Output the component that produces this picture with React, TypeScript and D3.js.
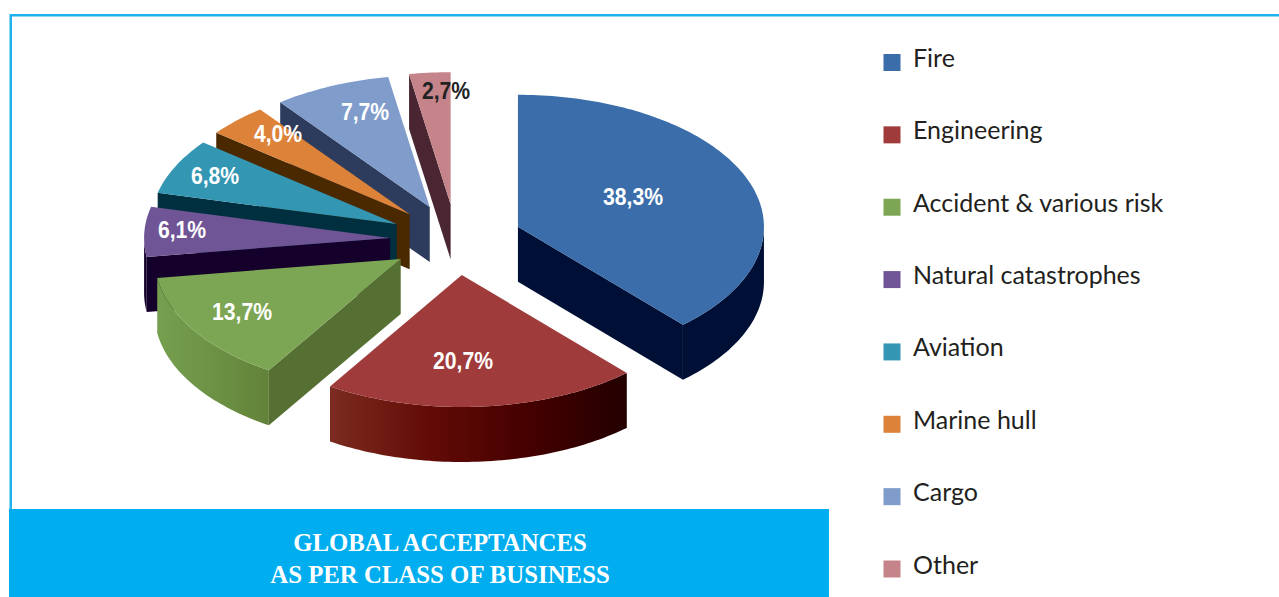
import React from "react";
import * as d3 from "d3";

const categories = ["Fire", "Engineering", "Accident & various risk", "Natural catastrophes", "Aviation", "Marine hull", "Cargo", "Other"];
const shares = [38.3, 20.7, 13.7, 6.1, 6.8, 4.0, 7.7, 2.7];
const shareLabels = ["38,3%", "20,7%", "13,7%", "6,1%", "6,8%", "4,0%", "7,7%", "2,7%"];
const titleLines = ["GLOBAL ACCEPTANCES", "AS PER CLASS OF BUSINESS"];

const topColors = ["#3a6daa", "#9f3b3b", "#7da654", "#6f5496", "#3396b3", "#dc8339", "#7f9ccb", "#c5848a"];
const edgeColors = ["#000f35", "#2a0000", "#566f32", "#14002a", "#00303f", "#4a2800", "#2d3b5c", "#4a2632"];
const wallStops = [
  ["#000f35", "#000f35"],
  ["#7c2c20", "#620b06", "#450000", "#240000"],
  ["#779f50", "#6c9245", "#628239"],
  ["#14002a", "#14002a"],
  ["#00303f", "#00303f"],
  ["#4a2800", "#4a2800"],
  ["#2d3b5c", "#2d3b5c"],
  ["#4a2632", "#4a2632"],
];
const labelAnchors = [[633, 197], [463, 361], [242, 312], [182, 230], [215, 176], [278, 134], [365, 112], [446, 91]];
const labelColors = ["#fff", "#fff", "#fff", "#fff", "#fff", "#fff", "#fff", "#222"];

const W = 1279, H = 597;
const cx = 456.2, cy = 239.6, rx = 246, ry = 132, depth = 55, explode = 0.269;

const arcs = d3.pie<number>().sort(null).value((d) => d)(shares);
const line = d3.line<[number, number]>();
const legendY = d3.scalePoint<string>().domain(categories).range([58.5, 565]);

function samples(a0: number, a1: number) {
  const n = Math.max(2, Math.ceil((a1 - a0) / 0.02));
  return d3.range(n + 1).map((i) => a0 + ((a1 - a0) * i) / n);
}

export default function App() {
  const slices = arcs.map((arc, i) => {
    const mid = (arc.startAngle + arc.endAngle) / 2;
    const ax = cx + Math.sin(mid) * rx * explode;
    const ay = cy - Math.cos(mid) * ry * explode;
    const pt = (a: number, dz = 0): [number, number] => [ax + Math.sin(a) * rx, ay - Math.cos(a) * ry + dz];
    const top = line([[ax, ay], ...samples(arc.startAngle, arc.endAngle).map((a) => pt(a))]) + "Z";
    const radial = (a: number) =>
      line([[ax, ay], pt(a), pt(a, depth), [ax, ay + depth]]) + "Z";
    const walls: string[] = [];
    if (Math.sin(arc.startAngle) < -1e-6) walls.push(radial(arc.startAngle));
    if (Math.sin(arc.endAngle) > 1e-6) walls.push(radial(arc.endAngle));
    const w0 = Math.max(arc.startAngle, Math.PI / 2);
    const w1 = Math.min(arc.endAngle, (3 * Math.PI) / 2);
    const outer =
      w1 > w0
        ? line([...samples(w0, w1).map((a) => pt(a)), ...samples(w0, w1).reverse().map((a) => pt(a, depth))]) + "Z"
        : null;
    const xs = w1 > w0 ? [pt(w0)[0], pt(w1)[0]] : [0, 1];
    return { i, top, walls, outer, x0: Math.min(...xs), x1: Math.max(...xs) };
  });
  const drawOrder = d3.range(slices.length).sort((a, b) => {
    const rank = [7, 6, 5, 4, 3, 2, 1, 0];
    return rank[a] - rank[b];
  });

  return (
    <svg width={W} height={H} viewBox={`0 0 ${W} ${H}`} style={{ position: "absolute", left: 0, top: 0, background: "#fff" }}>
      <defs>
        {slices.map((s) => (
          <linearGradient key={s.i} id={`wall${s.i}`} gradientUnits="userSpaceOnUse" x1={s.x0} x2={s.x1} y1={0} y2={0}>
            {wallStops[s.i].map((c, k) => (
              <stop key={k} offset={k / (wallStops[s.i].length - 1)} stopColor={c} />
            ))}
          </linearGradient>
        ))}
      </defs>

      <rect x={10} y={14} width={W - 10} height={2.5} fill="#1fb1ec" />
      <rect x={9.5} y={14} width={2.5} height={496} fill="#1fb1ec" />

      {drawOrder.map((idx) => {
        const s = slices[idx];
        return (
          <g key={s.i}>
            {s.walls.map((d, k) => (
              <path key={k} d={d} fill={edgeColors[s.i]} />
            ))}
            {s.outer && <path d={s.outer} fill={`url(#wall${s.i})`} />}
            <path d={s.top} fill={topColors[s.i]} />
          </g>
        );
      })}

      {shareLabels.map((t, i) => (
        <text key={t} transform={`translate(${labelAnchors[i][0]},${labelAnchors[i][1]}) scale(0.9,1)`} dy="0.36em" textAnchor="middle"
          fontFamily="'Liberation Sans', Arial, sans-serif" fontWeight="bold" fontSize={23.5} fill={labelColors[i]}>
          {t}
        </text>
      ))}

      <rect x={9} y={509} width={820} height={88} fill="#00adef" />
      {titleLines.map((t, i) => (
        <text key={t} x={440} y={551 + i * 32} textAnchor="middle" fontFamily="'Liberation Serif', serif"
          fontWeight="bold" fontSize={24.8} fill="#fff">
          {t}
        </text>
      ))}

      {categories.map((c, i) => (
        <g key={c}>
          <rect x={883.5} y={(legendY(c) as number) - 4.5} width={17} height={17} fill={topColors[i]} />
          <text x={913} y={(legendY(c) as number) - 0.5} dy="0.36em" fontFamily="Lato, 'Open Sans', sans-serif" fontSize={25} fill="#231f20">
            {c}
          </text>
        </g>
      ))}
    </svg>
  );
}
